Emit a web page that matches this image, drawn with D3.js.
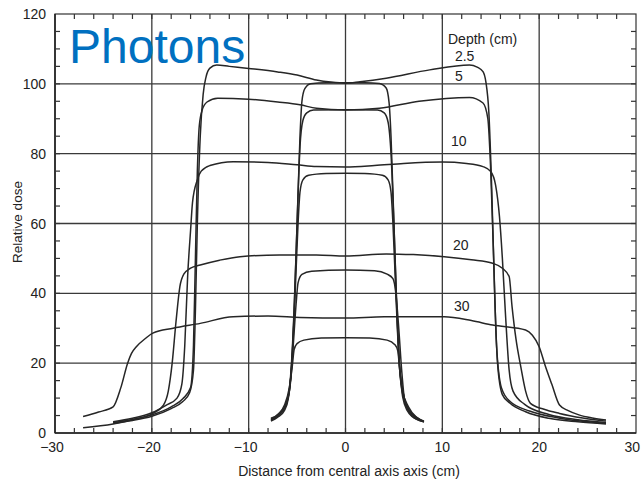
<!DOCTYPE html>
<meta charset="utf-8">
<style>
    body { margin: 0; background: #fff; }
    svg text { font-family: "Liberation Sans", Arial, sans-serif; fill: #222; }
</style>
<svg width="641" height="481"></svg>
<script src="https://d3js.org/d3.v7.min.js"></script>
<script>
// profiles: [distance (cm), relative dose]
var wide25 = [[-24, 2.8], [-22, 3.6], [-20, 4.8], [-18, 7], [-16.8, 9], [-16.1, 11.5], [-15.7, 18], [-15.5, 35], [-15.3, 60], [-15.0, 85], [-14.7, 97], [-14.4, 102], [-14.0, 104.5], [-13.3, 105.4], [-12, 105], [-10, 104.4], [-7, 103.4], [-5, 102.5], [-3, 101.1], [-1.5, 100.5], [0, 100.2], [1.5, 100.6], [4.2, 101.6], [8.7, 104], [12.8, 105.4], [13.6, 104.8], [14.2, 103.5], [14.5, 100.5], [14.8, 92], [15.1, 70], [15.4, 40], [15.7, 20], [16.2, 11], [17, 8.5], [18.6, 6.1], [21, 4.2], [24, 3.2], [26.9, 2.6]];
var wide5 = [[-24, 3.0], [-22, 3.9], [-20, 5.2], [-18, 7.5], [-16.8, 9.8], [-16.0, 13], [-15.7, 25], [-15.5, 50], [-15.3, 75], [-15.1, 88], [-14.8, 92.5], [-14.3, 94.8], [-13.2, 95.9], [-10, 95.6], [-7, 94.8], [-4.7, 94], [-3, 93], [0, 92.5], [3.5, 93], [7.6, 95], [12.8, 96.1], [14.2, 94.5], [14.7, 90], [15.0, 75], [15.3, 50], [15.6, 25], [16.1, 13], [17, 9], [19, 6.3], [22, 4.3], [26.9, 2.8]];
var wide10 = [[-24, 3.2], [-22, 4.2], [-20, 5.8], [-18.5, 8], [-17.4, 10], [-16.9, 14], [-16.6, 25], [-16.3, 45], [-16.0, 58], [-15.8, 66], [-15.3, 72.5], [-14.9, 75], [-14.0, 76.6], [-11.6, 77.7], [-8, 77.5], [-5, 76.8], [-3, 76.3], [0, 76.2], [3, 76.6], [6, 77.2], [10, 77.6], [12.5, 77.2], [14.2, 76.3], [15, 74.9], [15.5, 71], [15.9, 62], [16.2, 50], [16.5, 35], [16.9, 18], [17.3, 12], [18.5, 8.2], [21, 5.3], [24, 3.8], [26.9, 3.0]];
var wide20 = [[-27.1, 1.5], [-24, 2.6], [-22, 3.8], [-19.9, 5.6], [-18.8, 8], [-18.3, 12], [-17.9, 20], [-17.5, 32], [-17.1, 42], [-16.7, 45.5], [-16, 47.2], [-15, 48.1], [-13, 49.5], [-10.9, 50.5], [-6.8, 51], [-3, 51], [0, 50.7], [4.2, 51.3], [7, 51.1], [10.2, 50.5], [13, 49.6], [15.2, 48.6], [16.2, 47.2], [16.9, 44.8], [17.2, 36.2], [17.6, 27], [18.1, 19], [18.6, 12], [19.1, 8.5], [20.5, 6.8], [22.1, 5.6], [24.5, 4.3], [26.9, 3.4]];
var wide30 = [[-27.1, 4.7], [-25.5, 6], [-24, 7.5], [-23.2, 13], [-22.5, 20], [-22.1, 22.8], [-21.6, 24.7], [-20.6, 27.2], [-19.9, 28.6], [-17.8, 30], [-15, 31.4], [-11.6, 33.3], [-8, 33.5], [-4.7, 33.1], [0, 32.9], [4, 33.3], [10.2, 33.3], [13, 32.2], [15.2, 30.9], [18.6, 29.5], [19.3, 28], [20, 24.7], [20.6, 19.5], [21.3, 14], [22.1, 8], [23, 6.4], [24.1, 5.2], [25.5, 4.3], [26.9, 3.7]];

var narrow25 = [[-7.7, 3.4], [-7.0, 4.5], [-6.3, 6.5], [-5.9, 10], [-5.6, 18], [-5.3, 35], [-5.0, 60], [-4.7, 85], [-4.5, 95], [-4.2, 98.6], [-3.6, 100], [-2, 100.3], [0, 100.3], [2, 100.3], [3.5, 100.1], [4.2, 98.8], [4.5, 94.6], [4.7, 85], [5.0, 60], [5.3, 35], [5.6, 18], [6.0, 10], [6.6, 6.2], [7.4, 4.2], [8.1, 3.2]];
var narrow5 = [[-7.7, 3.6], [-7.0, 4.8], [-6.3, 7], [-5.9, 10.5], [-5.6, 19], [-5.3, 36], [-5.0, 60], [-4.7, 82], [-4.4, 89.5], [-4.0, 91.7], [-3.3, 92.5], [0, 92.6], [3.3, 92.5], [4.0, 91.7], [4.4, 89], [4.7, 80], [5.0, 60], [5.3, 36], [5.6, 19], [6.0, 11], [6.6, 6.5], [7.4, 4.4], [8.1, 3.3]];
var narrow10 = [[-7.7, 3.8], [-6.9, 5.2], [-6.2, 7.8], [-5.8, 12], [-5.5, 22], [-5.2, 40], [-4.9, 60], [-4.7, 69], [-4.4, 72.5], [-3.8, 73.8], [-2, 74.3], [0, 74.4], [2, 74.3], [3.8, 73.8], [4.4, 72.5], [4.7, 69], [4.9, 60], [5.2, 40], [5.5, 22], [5.9, 12], [6.5, 7.5], [7.3, 4.6], [8.1, 3.4]];
var narrow20 = [[-7.7, 4.0], [-6.8, 5.7], [-6.1, 8.8], [-5.7, 14], [-5.4, 25], [-5.1, 37], [-4.9, 43], [-4.5, 45.4], [-3.5, 46.3], [0, 46.7], [3, 46.5], [4.3, 45.5], [4.9, 44.2], [5.2, 40], [5.5, 30], [5.8, 18], [6.1, 9.5], [6.6, 5.8], [7.3, 4.0], [8.1, 3.2]];
var narrow30 = [[-7.7, 4.2], [-6.9, 5.5], [-6.3, 8], [-5.8, 13], [-5.5, 19], [-5.3, 24], [-5.0, 25.6], [-4.3, 26.6], [-2.5, 27.2], [0, 27.3], [2.5, 27.2], [4.3, 26.6], [5.1, 25.3], [5.4, 23.5], [5.6, 18], [5.9, 10.4], [6.4, 6.3], [6.9, 4.7], [7.5, 3.8], [8.1, 3.2]];

var xTicks = [-30, -20, -10, 0, 10, 20, 30];
var yTicks = [0, 20, 40, 60, 80, 100, 120];
var depthLabels = [{t: "2.5", x: 11.3, y: 106.5}, {t: "5", x: 11.3, y: 100.8}, {t: "10", x: 10.9, y: 82.3}, {t: "20", x: 11.1, y: 52.5}, {t: "30", x: 11.2, y: 34.8}];

var svg = d3.select("svg");

var x = d3.scaleLinear().domain([-30, 30]).range([55, 636]);
var y = d3.scaleLinear().domain([0, 120]).range([433, 14]);

// grid
svg.append("g").selectAll("line")
    .data([-20, -10, 0, 10, 20])
    .enter().append("line")
    .attr("x1", function(d) { return x(d); })
    .attr("x2", function(d) { return x(d); })
    .attr("y1", y(0)).attr("y2", y(120))
    .attr("stroke", "#3a3a3a").attr("stroke-width", 1.3);
svg.append("g").selectAll("line")
    .data([20, 40, 60, 80, 100])
    .enter().append("line")
    .attr("y1", function(d) { return y(d); })
    .attr("y2", function(d) { return y(d); })
    .attr("x1", x(-30)).attr("x2", x(30))
    .attr("stroke", "#3a3a3a").attr("stroke-width", 1.3);

// frame
svg.append("rect")
    .attr("x", x(-30)).attr("y", y(120))
    .attr("width", x(30) - x(-30)).attr("height", y(0) - y(120))
    .attr("fill", "none").attr("stroke", "#333").attr("stroke-width", 1.2);
svg.append("line").attr("x1", x(-30)).attr("x2", x(30)).attr("y1", y(0)).attr("y2", y(0))
    .attr("stroke", "#222").attr("stroke-width", 1.6);
svg.append("line").attr("x1", x(-30)).attr("x2", x(-30)).attr("y1", y(0)).attr("y2", y(120))
    .attr("stroke", "#222").attr("stroke-width", 1.6);

// inward minor ticks
var xMinor = d3.range(-28, 29, 2);
var yMinor = d3.range(5, 120, 5);
var tk = svg.append("g").attr("stroke", "#333").attr("stroke-width", 1.2);
xMinor.forEach(function(v) {
    tk.append("line").attr("x1", x(v)).attr("x2", x(v)).attr("y1", y(0)).attr("y2", y(0) - 5);
    tk.append("line").attr("x1", x(v)).attr("x2", x(v)).attr("y1", y(120)).attr("y2", y(120) + 5);
});
yMinor.forEach(function(v) {
    tk.append("line").attr("y1", y(v)).attr("y2", y(v)).attr("x1", x(-30)).attr("x2", x(-30) + 5);
    tk.append("line").attr("y1", y(v)).attr("y2", y(v)).attr("x1", x(30)).attr("x2", x(30) - 5);
});

// tick labels (the last one sits against the page edge, as in the figure)
svg.append("g").selectAll("text")
    .data(xTicks)
    .enter().append("text")
    .attr("x", function(d) { return d === 30 ? 640 : x(d) - (d < 0 ? 3 : 0); })
    .attr("y", 452)
    .attr("text-anchor", function(d) { return d === 30 ? "end" : "middle"; })
    .style("font-size", "14px")
    .text(function(d) { return d < 0 ? "\u2212" + Math.abs(d) : d; });
svg.append("g").selectAll("text")
    .data(yTicks)
    .enter().append("text")
    .attr("x", 46)
    .attr("y", function(d) { return y(d) + 5; })
    .attr("text-anchor", "end")
    .style("font-size", "14px")
    .text(function(d) { return d; });

// axis titles
svg.append("text")
    .attr("x", 349).attr("y", 476)
    .attr("text-anchor", "middle")
    .style("font-size", "14px")
    .text("Distance from central axis axis (cm)");
svg.append("text")
    .attr("transform", "translate(22,222) rotate(-90)")
    .attr("text-anchor", "middle")
    .style("font-size", "13.5px")
    .text("Relative dose");

// profiles
var line = d3.line()
    .x(function(d) { return x(d[0]); })
    .y(function(d) { return y(d[1]); })
    .curve(d3.curveMonotoneX);

var profiles = [wide25, wide5, wide10, wide20, wide30, narrow25, narrow5, narrow10, narrow20, narrow30];
svg.append("g").selectAll("path")
    .data(profiles)
    .enter().append("path")
    .attr("d", line)
    .attr("fill", "none")
    .attr("stroke", "#262626")
    .attr("stroke-width", 1.5)
    .attr("stroke-linejoin", "round");

// depth labels
svg.append("text")
    .attr("x", 448).attr("y", 44)
    .style("font-size", "14px")
    .text("Depth (cm)");
svg.append("g").selectAll("text")
    .data(depthLabels)
    .enter().append("text")
    .attr("x", function(d) { return x(d.x); })
    .attr("y", function(d) { return y(d.y); })
    .style("font-size", "14px")
    .text(function(d) { return d.t; });

svg.append("text")
    .attr("x", 69).attr("y", 63)
    .style("font-size", "48px")
    .style("fill", "#0070C0")
    .text("Photons");
</script>
